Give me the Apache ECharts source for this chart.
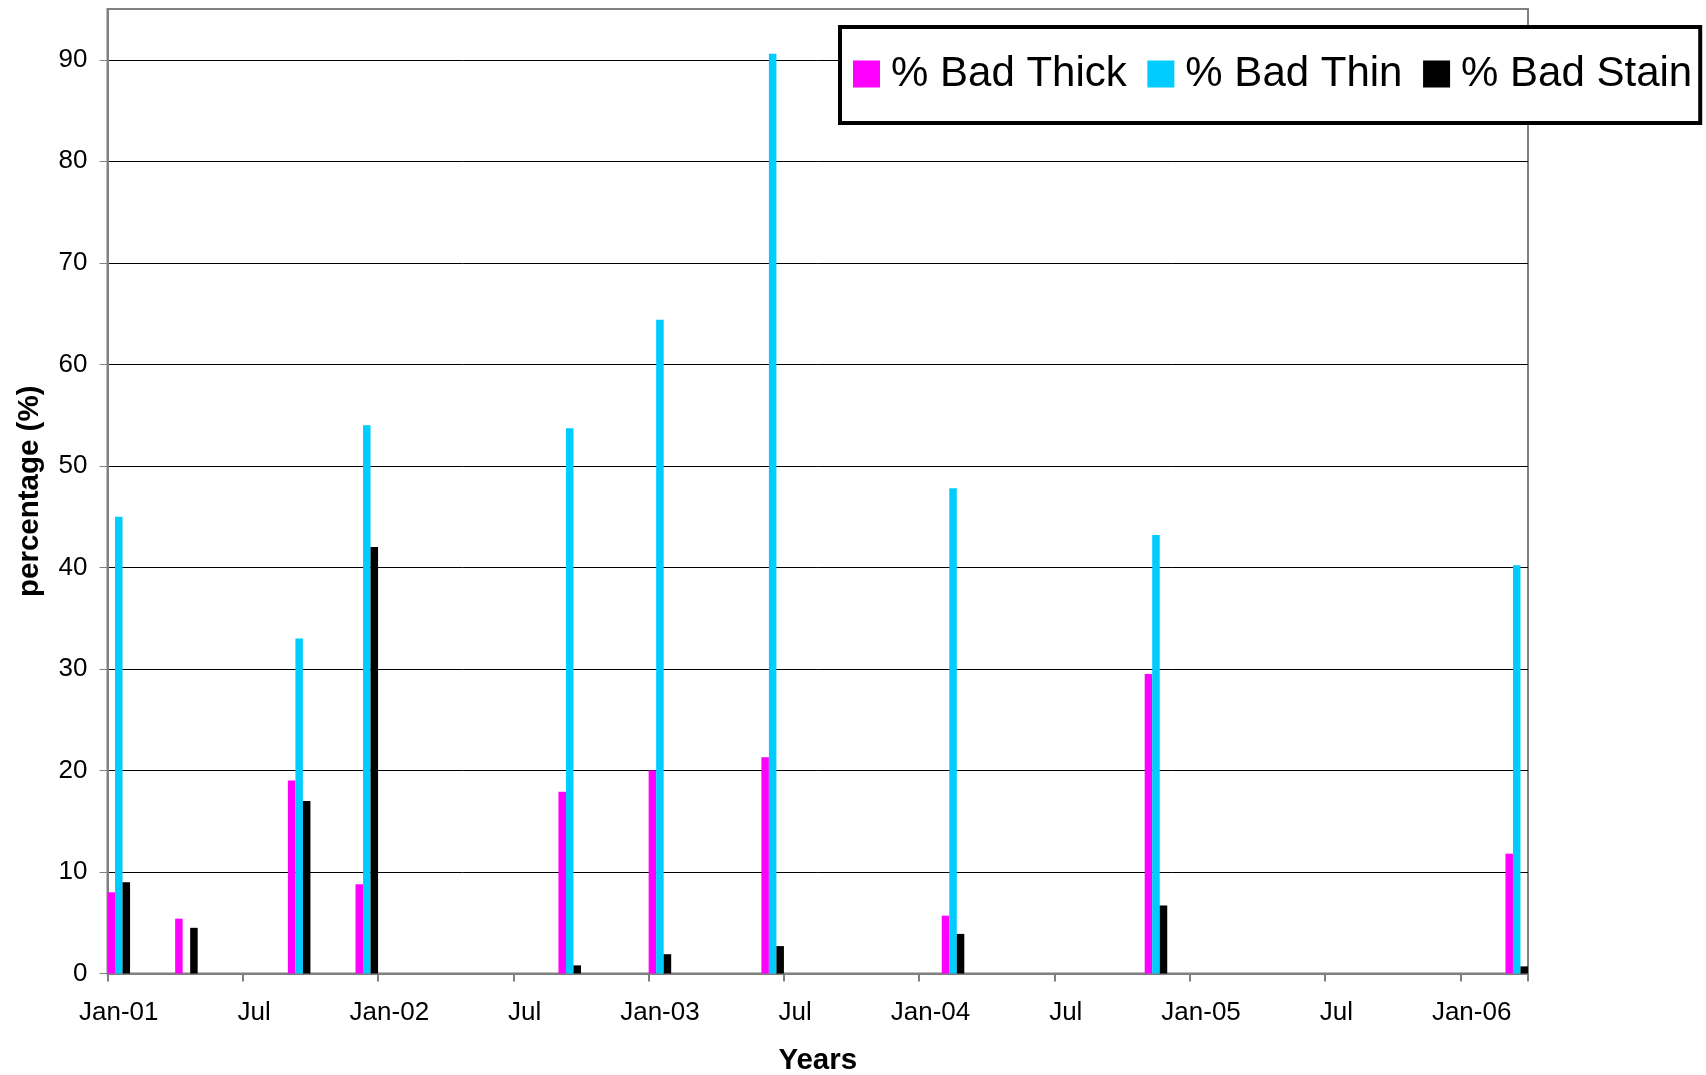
<!DOCTYPE html>
<html>
<head>
<meta charset="utf-8">
<script src="https://cdn.jsdelivr.net/npm/echarts@6/dist/echarts.min.js"></script>
<style>
html,body{margin:0;padding:0;background:#fff;}
#chart{width:1706px;height:1075px;}
</style>
</head>
<body>
<div id="chart"></div>
<script>
// ---- data ----
const sampleMonths = ['2001-01','2001-04','2001-09','2001-12','2002-09','2003-01','2003-06','2004-02','2004-11','2006-03'];
const badThick = [8.0, 5.4, 19.0, 8.8, 17.9, 20.0, 21.3, 5.7, 29.5, 11.8];
const badThin  = [45.0, null, 33.0, 54.0, 53.7, 64.4, 90.6, 47.8, 43.2, 40.2];
const badStain = [9.0, 4.5, 17.0, 42.0, 0.8, 1.9, 2.7, 3.9, 6.7, 0.7];
const xTickLabels = ['Jan-01','Jul','Jan-02','Jul','Jan-03','Jul','Jan-04','Jul','Jan-05','Jul','Jan-06'];
const seriesNames = ['% Bad Thick','% Bad Thin','% Bad Stain'];
const axisStartYear = 2001;
const axisMonthCount = 63; // Jan-2001 .. Mar-2006

// ---- month categories for the date axis ----
const months = [];
for (let i = 0; i < axisMonthCount; i++) {
  const y = axisStartYear + Math.floor(i / 12);
  const m = (i % 12) + 1;
  months.push(y + '-' + (m < 10 ? '0' + m : '' + m));
}
function spread(vals) {
  const out = months.map(() => null);
  sampleMonths.forEach((d, k) => { out[months.indexOf(d)] = vals[k]; });
  return out;
}

const FONT = '"Liberation Sans", Arial, sans-serif';
const every6 = (idx) => idx % 6 === 0;

const chart = echarts.init(document.getElementById('chart'), null, {renderer: 'canvas'});
chart.setOption({
  animation: false,
  backgroundColor: '#fff',
  grid: {
    left: 107.5, right: 178, top: 9, bottom: 101.5,
    show: true, borderColor: '#808080', borderWidth: 2,
    containLabel: false, outerBoundsMode: 'none'
  },
  legend: {
    show: true,
    left: 840, top: 27,
    orient: 'horizontal',
    padding: [26, 8, 28, 13],
    itemGap: 20.6,
    itemWidth: 27, itemHeight: 27,
    icon: 'rect',
    backgroundColor: '#fff',
    borderColor: '#000',
    borderWidth: 4,
    borderRadius: 0,
    textStyle: {fontSize: 42, fontFamily: FONT, color: '#000', padding: [0, 0, 0, 6]},
    data: seriesNames
  },
  xAxis: {
    type: 'category',
    data: months,
    boundaryGap: true,
    axisLine: {show: true, lineStyle: {color: '#808080', width: 2}},
    axisTick: {show: true, interval: every6, length: 8, lineStyle: {color: '#808080', width: 2}},
    axisLabel: {
      interval: every6,
      formatter: (v, i) => xTickLabels[i / 6],
      color: '#000', fontSize: 26, fontFamily: FONT, margin: 26
    },
    splitLine: {show: false},
    name: 'Years',
    nameLocation: 'middle',
    nameGap: 72,
    nameTextStyle: {fontSize: 29.5, fontWeight: 'bold', fontFamily: FONT, color: '#000'}
  },
  yAxis: {
    type: 'value',
    min: 0, max: 95, interval: 10,
    axisLine: {show: true, lineStyle: {color: '#808080', width: 2}},
    axisTick: {show: true, length: 8, lineStyle: {color: '#808080', width: 1}},
    axisLabel: {color: '#000', fontSize: 26, fontFamily: FONT, margin: 20, showMaxLabel: false},
    splitLine: {show: true, showMinLine: false, showMaxLine: false, lineStyle: {color: '#000', width: 1}},
    name: 'percentage (%)',
    nameLocation: 'middle',
    nameGap: 63,
    nameTextStyle: {fontSize: 29.5, fontWeight: 'bold', fontFamily: FONT, color: '#000'}
  },
  series: [
    {name: seriesNames[0], type: 'bar', data: spread(badThick), itemStyle: {color: '#FF00FF'}, barGap: '0%', barCategoryGap: '0%'},
    {name: seriesNames[1], type: 'bar', data: spread(badThin),  itemStyle: {color: '#00CCFF'}, barGap: '0%', barCategoryGap: '0%'},
    {name: seriesNames[2], type: 'bar', data: spread(badStain), itemStyle: {color: '#000000'}, barGap: '0%', barCategoryGap: '0%'}
  ]
});
</script>
</body>
</html>
